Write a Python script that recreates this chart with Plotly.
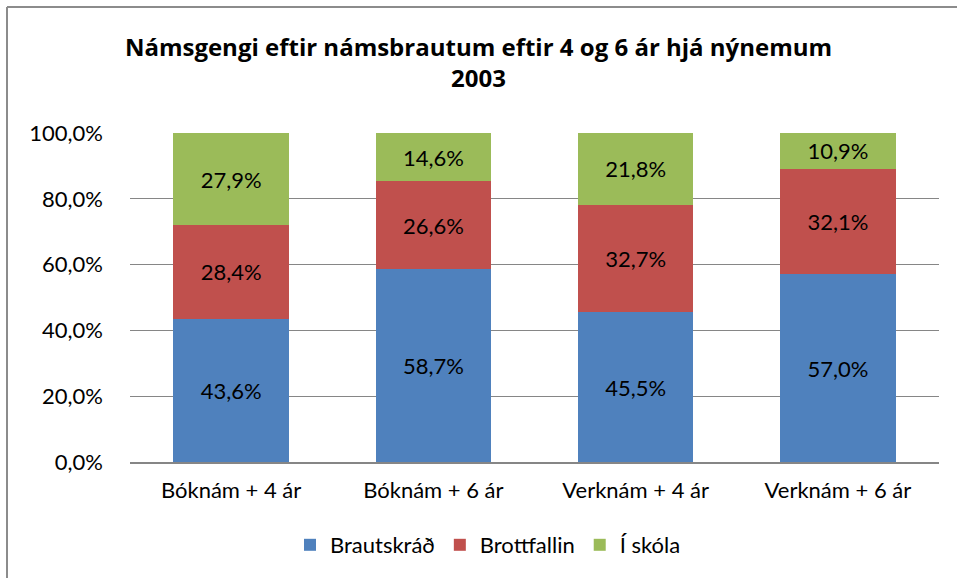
import plotly.graph_objects as go

categories = ["Bóknám + 4 ár", "Bóknám + 6 ár", "Verknám + 4 ár", "Verknám + 6 ár"]
series_names = ["Brautskráð", "Brottfallin", "Í skóla"]
brautskrad = [43.6, 58.7, 45.5, 57.0]
brottfallin = [28.4, 26.6, 32.7, 32.1]
i_skola = [27.9, 14.6, 21.8, 10.9]
colors = ["#4F81BD", "#C0504D", "#9BBB59"]
y_ticks = [0, 20, 40, 60, 80, 100]

FONT = "Lato"
fig = go.Figure()
for name, vals, col in zip(series_names, [brautskrad, brottfallin, i_skola], colors):
    fig.add_trace(go.Bar(
        x=categories, y=[v / 100 for v in vals], name=name,
        marker=dict(color=col, line=dict(width=0)),
        text=[f"{v:.1f}".replace(".", ",") + "%" for v in vals],
        textposition="inside", insidetextanchor="middle",
        textfont=dict(family=FONT, size=22, color="black"),
        hoverinfo="skip",
    ))

L, R, T, B = 130, 18, 133, 116
W, H = 957, 578
pw, ph = W - L - R, H - T - B

def px(x):
    return (x - L) / pw

def py(y):
    return (H - B - y) / ph

fig.update_layout(
    width=W, height=H,
    barmode="stack", bargap=0.43,
    separators=",.",
    paper_bgcolor="white", plot_bgcolor="white",
    margin=dict(l=L, r=R, t=T, b=B),
    font=dict(family=FONT, size=22, color="black"),
    title=dict(text="<b>Námsgengi eftir námsbrautum eftir 4 og 6 ár hjá nýnemum<br>2003</b>",
               x=0.5, xanchor="center", y=1 - 56 / H, yanchor="top",
               font=dict(family="Open Sans", size=24, color="black")),
    showlegend=True,
    legend=dict(orientation="h", x=px(488), xanchor="center", y=py(545), yanchor="middle",
                font=dict(family=FONT, size=22), traceorder="normal",
                itemwidth=30, itemsizing="constant"),
    yaxis=dict(range=[0, 1], tickvals=[t / 100 for t in y_ticks], tickformat=".1%",
               showgrid=True, gridcolor="#868686", gridwidth=1.3, zeroline=False,
               showline=False, ticklabelstandoff=26, tickfont=dict(size=22)),
    xaxis=dict(showline=True, linecolor="#868686", linewidth=1.5, ticks="",
               tickfont=dict(size=22), ticklabelstandoff=8),
    shapes=[
        dict(type="line", xref="paper", yref="paper", x0=px(7), x1=px(960), y0=py(7), y1=py(7),
             line=dict(color="#8C8C8C", width=2)),
        dict(type="line", xref="paper", yref="paper", x0=px(7), x1=px(7), y0=py(7), y1=py(590),
             line=dict(color="#8C8C8C", width=2)),
    ],
)
fig.write_html("out.html", config={"displayModeBar": False},
               post_script="document.body.style.margin='0';document.body.style.overflow='hidden';")
